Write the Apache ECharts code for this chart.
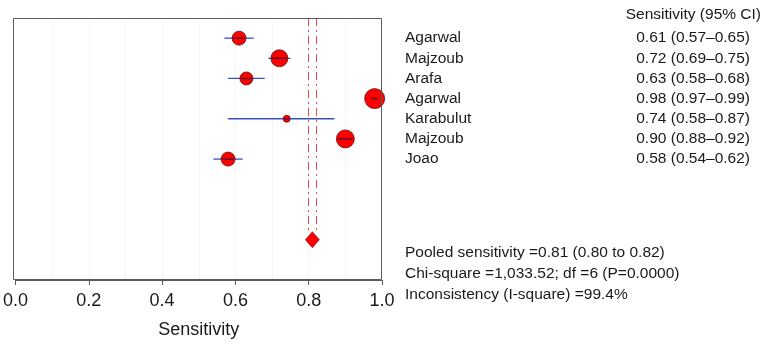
<!DOCTYPE html>
<html>
<head>
<meta charset="utf-8">
<script src="https://cdn.jsdelivr.net/npm/echarts@6/dist/echarts.min.js"></script>
<style>
  html, body { margin: 0; padding: 0; background: #fff; }
  #chart { width: 764px; height: 344px; }
</style>
</head>
<body>
<div id="chart"></div>
<script>
// study data
const studies = ['Agarwal', 'Majzoub', 'Arafa', 'Agarwal', 'Karabulut', 'Majzoub', 'Joao'];
const sens = [0.61, 0.72, 0.63, 0.98, 0.74, 0.90, 0.58];
const ciLow = [0.57, 0.69, 0.58, 0.97, 0.58, 0.88, 0.54];
const ciHigh = [0.65, 0.75, 0.68, 0.99, 0.87, 0.92, 0.62];
const studyWeight = [14, 17, 13, 20, 7, 18, 14];
const ciText = ['0.61 (0.57\u20130.65)', '0.72 (0.69\u20130.75)', '0.63 (0.58\u20130.68)',
  '0.98 (0.97\u20130.99)', '0.74 (0.58\u20130.87)', '0.90 (0.88\u20130.92)', '0.58 (0.54\u20130.62)'];

// pooled estimate
const pooled = 0.81;
const pooledLow = 0.80;
const pooledHigh = 0.82;
const summaryLines = [
  'Pooled sensitivity =0.81 (0.80 to 0.82)',
  'Chi-square =1,033.52; df =6 (P=0.0000)',
  'Inconsistency (I-square) =99.4%'
];

const FONT = "'Liberation Sans', Arial, Helvetica, sans-serif";
const rowPos = studies.map((s, i) => i + 1);
const pooledRow = 11;

var myChart = echarts.init(document.getElementById('chart'), null, { renderer: 'canvas' });

var studyData = sens.map((v, i) => [v, ciLow[i], ciHigh[i], rowPos[i], studyWeight[i]]);

var option = {
  animation: false,
  grid: { left: 13, top: 18, width: 369, height: 262, show: false },
  xAxis: [{
    type: 'value', min: 0, max: 1, interval: 0.2,
    name: 'Sensitivity', nameLocation: 'middle', nameGap: 41,
    nameTextStyle: { fontFamily: FONT, fontSize: 18, color: '#1a1a1a' },
    axisLine: { show: true, onZero: false, lineStyle: { color: '#5a5a5a' } },
    axisTick: { show: true, length: 5, lineStyle: { color: '#5a5a5a' } },
    axisLabel: {
      fontFamily: FONT, fontSize: 18, color: '#1a1a1a', margin: 12,
      formatter: v => v.toFixed(1)
    },
    splitLine: { show: false }
  }, {
    // faint reference lines every 0.1
    type: 'value', min: 0, max: 1, interval: 0.1, position: 'bottom',
    axisLine: { show: false, onZero: false }, axisTick: { show: false }, axisLabel: { show: false },
    splitLine: { show: true, showMinLine: false, showMaxLine: false,
      lineStyle: { color: '#ececec', type: 'dotted' } }
  }],
  yAxis: {
    type: 'value', min: 0, max: 13, inverse: true,
    axisLine: { show: false, onZero: false }, axisTick: { show: false },
    axisLabel: { show: false }, splitLine: { show: false }
  },
  series: [
    {
      type: 'scatter',
      data: [[pooled, pooledRow]],
      symbol: 'diamond',
      symbolSize: [14, 16],
      itemStyle: { color: '#ff0000', opacity: 1, borderColor: '#8a0000', borderWidth: 0.6 },
      z: 3,
      markLine: {
        silent: true,
        symbol: 'none',
        label: { show: false },
        lineStyle: { color: '#f04848', width: 1, type: [8, 4, 2, 4] },
        data: [
          [{ coord: [pooledLow, 0] }, { coord: [pooledLow, pooledRow - 0.35] }],
          [{ coord: [pooledHigh, 0] }, { coord: [pooledHigh, pooledRow - 0.35] }]
        ]
      }
    },
    {
      type: 'custom',
      data: studyData,
      z: 4,
      renderItem: function (params, api) {
        var c = api.coord([api.value(0), api.value(3)]);
        var lo = api.coord([api.value(1), api.value(3)]);
        var hi = api.coord([api.value(2), api.value(3)]);
        var r = api.value(4) / 2;
        var inL = Math.max(lo[0], c[0] - r + 1);
        var inR = Math.min(hi[0], c[0] + r - 1);
        return {
          type: 'group',
          children: [
            { type: 'line', shape: { x1: lo[0], y1: c[1], x2: hi[0], y2: c[1] },
              style: { stroke: '#3a4fc4', lineWidth: 1.3 } },
            { type: 'circle', shape: { cx: c[0], cy: c[1], r: r },
              style: { fill: '#ff0000', stroke: '#5a1010', lineWidth: 0.8 } },
            { type: 'line', shape: { x1: inL, y1: c[1], x2: inR, y2: c[1] },
              style: { stroke: '#4a1030', lineWidth: 1.3 } }
          ]
        };
      }
    }
  ]
};

myChart.setOption(option);

// plot frame drawn over the faint grid lines
var graphics = [{
  type: 'rect', z: 100, silent: true,
  shape: { x: 13.5, y: 18.5, width: 368, height: 261 },
  style: { fill: null, stroke: '#5a5a5a', lineWidth: 1 }
}, {
  type: 'text', right: 3, top: 7,
  style: { text: 'Sensitivity (95% CI)', font: '15.5px ' + FONT, fill: '#1a1a1a' }
}];
// side table text, placed on the study rows
studies.forEach(function (name, i) {
  var y = myChart.convertToPixel({ gridIndex: 0 }, [0, rowPos[i]])[1];
  graphics.push({
    type: 'text', x: 405, y: y,
    style: { text: name, font: '15.5px ' + FONT, fill: '#1a1a1a', textVerticalAlign: 'middle' }
  });
  graphics.push({
    type: 'text', x: 750, y: y,
    style: { text: ciText[i], font: '15.5px ' + FONT, fill: '#1a1a1a', textAlign: 'right', textVerticalAlign: 'middle' }
  });
});
summaryLines.forEach(function (t, i) {
  graphics.push({
    type: 'text', x: 405, y: 252.5 + i * 21.2,
    style: { text: t, font: '15.5px ' + FONT, fill: '#1a1a1a', textVerticalAlign: 'middle' }
  });
});
myChart.setOption({ graphic: graphics });
</script>
</body>
</html>
